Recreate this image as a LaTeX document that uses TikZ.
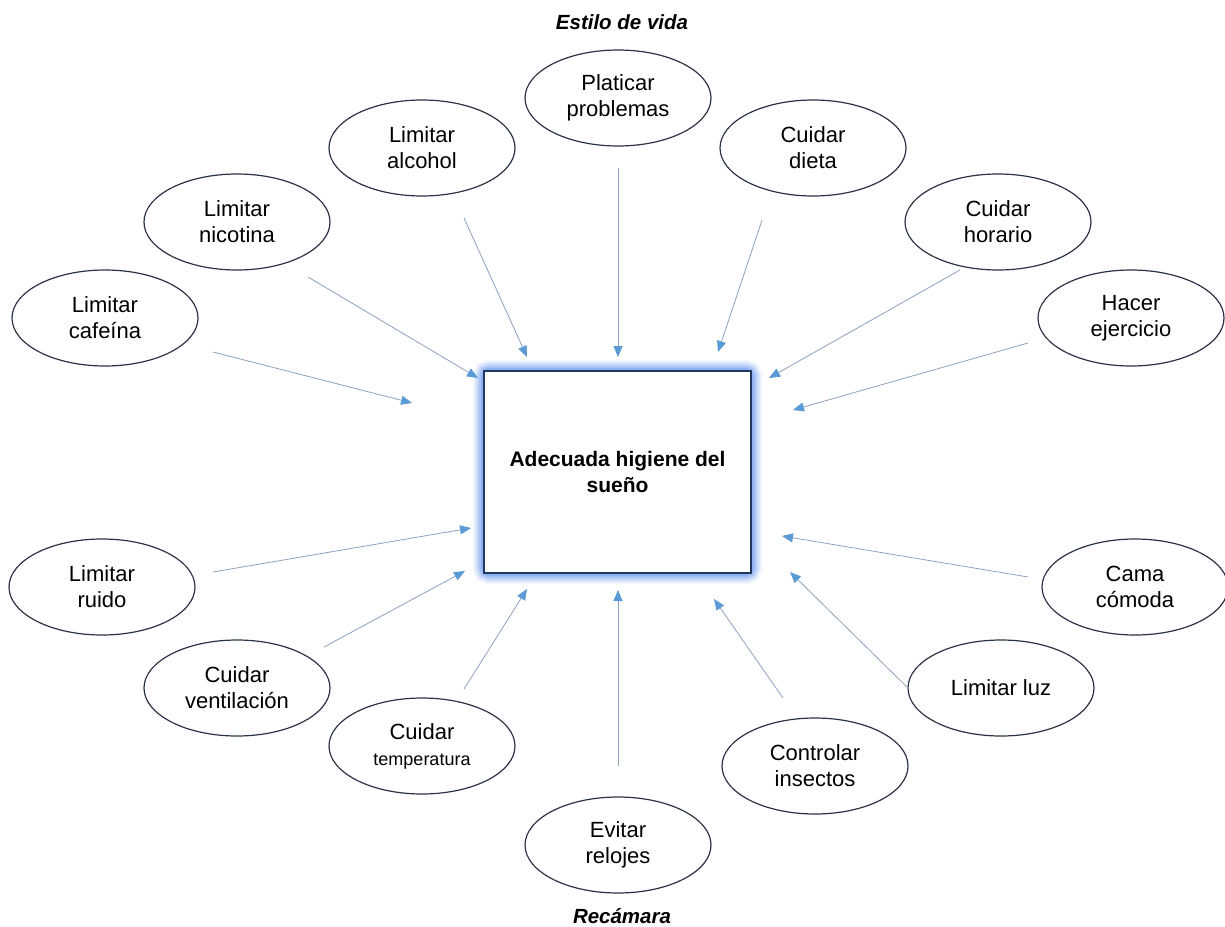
\documentclass[tikz,border=0pt]{standalone}
\usepackage{fontspec}
\setmainfont{Liberation Sans}
\usetikzlibrary{shapes.geometric,arrows.meta}
\definecolor{ellline}{HTML}{2B3247}
\definecolor{arrline}{HTML}{8AA2C0}
\definecolor{arrhead}{HTML}{5B9BD5}
\definecolor{boxline}{HTML}{1F3864}
\definecolor{glow}{HTML}{7FA6F0}
\begin{document}
\begin{tikzpicture}[x=1pt,y=-1pt,
  oval/.style={ellipse,draw=ellline,line width=1.2pt,minimum width=186pt,minimum height=96pt,inner sep=0pt,align=center,font=\fontsize{22}{26}\selectfont},
  arr/.style={draw=arrline,line width=0.8pt,-{Triangle[length=11pt,width=9pt,fill=arrhead,color=arrhead]}},
  ttl/.style={font=\fontsize{20.5}{24}\selectfont\bfseries\itshape}]
\useasboundingbox (0,0) rectangle (1225,926);
% glow
\foreach \w/\o in {22/0.12,18/0.18,14/0.26,10/0.4,6/0.6}{
  \draw[glow,line width=\w pt,opacity=\o,rounded corners=5pt] (484,371) rectangle (751,573);
}
\node[draw=boxline,line width=1.6pt,fill=white,minimum width=267pt,minimum height=202pt,inner sep=0pt,align=center,font=\fontsize{21}{26}\selectfont\bfseries] (c) at (617.5,472) {Adecuada higiene del\\sueño};
\node[ttl] (t1) at (622,22) {Estilo de vida};
\node[ttl] (t2) at (622,916) {Recámara};

\node[oval] (pp) at (618,98) {Platicar\\problemas};
\node[oval] (la) at (422,148) {Limitar\\alcohol};
\node[oval] (cd) at (813,148) {Cuidar\\dieta};
\node[oval] (ln) at (237,222) {Limitar\\nicotina};
\node[oval] (ch) at (998,222) {Cuidar\\horario};
\node[oval] (lc) at (105,318) {Limitar\\cafeína};
\node[oval] (he) at (1131,318) {Hacer\\ejercicio};
\node[oval] (lr) at (102,587) {Limitar\\ruido};
\node[oval] (cc) at (1135,587) {Cama\\cómoda};
\node[oval] (cv) at (237,688) {Cuidar\\ventilación};
\node[oval] (ll) at (1001,688) {Limitar luz};
\node[oval] (ct) at (422,746) {Cuidar\\{\fontsize{18}{26}\selectfont temperatura}};
\node[oval] (ci) at (815,766) {Controlar\\insectos};
\node[oval] (er) at (618,845) {Evitar\\relojes};

\coordinate (lc1) at (213,352); \coordinate (lc2) at (412,403);
\coordinate (ln1) at (308,277); \coordinate (ln2) at (478,378);
\coordinate (la1) at (464,218); \coordinate (la2) at (527,357);
\coordinate (pp1) at (618,168); \coordinate (pp2) at (618,357);
\coordinate (cd1) at (762,220); \coordinate (cd2) at (718,352);
\coordinate (ch1) at (960,270); \coordinate (ch2) at (769,378);
\coordinate (he1) at (1028,343); \coordinate (he2) at (793,410);
\coordinate (lr1) at (213,572); \coordinate (lr2) at (471,528);
\coordinate (cv1) at (324,647); \coordinate (cv2) at (465,571);
\coordinate (ct1) at (464,689); \coordinate (ct2) at (527,589);
\coordinate (er1) at (618,766); \coordinate (er2) at (618,590);
\coordinate (ci1) at (783,698); \coordinate (ci2) at (714,599);
\coordinate (ll1) at (908,688); \coordinate (ll2) at (790,572);
\coordinate (cc1) at (1028,577); \coordinate (cc2) at (782,536);
\foreach \n in {lc,ln,la,pp,cd,ch,he,lr,cv,ct,er,ci,ll,cc}{
  \draw[arr] (\n1) -- (\n2);
}
\end{tikzpicture}
\end{document}
